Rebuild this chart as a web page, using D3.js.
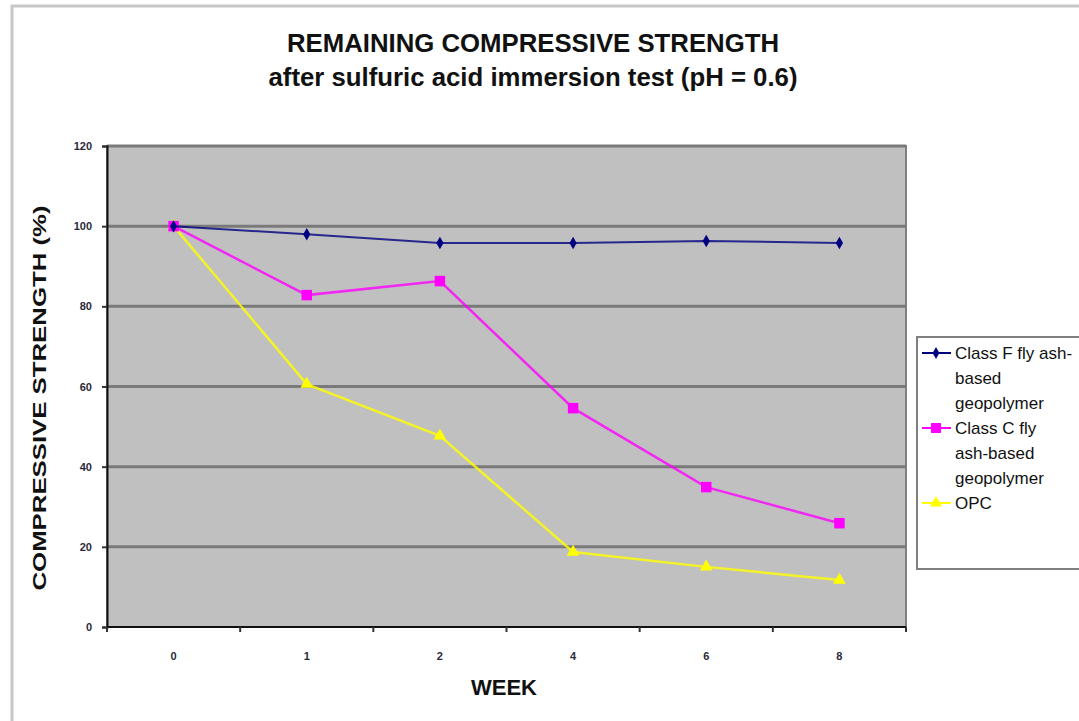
<!DOCTYPE html>
<html>
<head>
<meta charset="utf-8">
<script src="https://cdn.jsdelivr.net/npm/d3@7"></script>
<style>
  html, body { margin: 0; padding: 0; background: #fff; }
  svg { display: block; }
  text { font-family: "Liberation Sans", Arial, sans-serif; }
  .narrow { font-family: "Liberation Sans Narrow", "Liberation Sans", Arial, sans-serif; }
</style>
</head>
<body>
<svg id="chart" width="1079" height="721"></svg>
<script>
// Week labels on the category axis
const weeks = ["0", "1", "2", "4", "6", "8"];
// Remaining compressive strength (%) per series
const classF = [100, 98.0, 95.8, 95.8, 96.3, 95.8];
const classC = [100, 82.8, 86.3, 54.6, 34.9, 25.9];
const opc    = [100, 60.6, 47.7, 18.7, 15.0, 11.7];
const yTicks = [0, 20, 40, 60, 80, 100, 120];

const seriesNames = [
  ["Class F fly ash-", "based", "geopolymer"],
  ["Class C fly", "ash-based", "geopolymer"],
  ["OPC"]
];

const series = [
  { values: classF, color: "#000080", marker: "diamond", lines: seriesNames[0], width: 2 },
  { values: classC, color: "#ff00ff", marker: "square",  lines: seriesNames[1], width: 2.5 },
  { values: opc,    color: "#ffff00", marker: "triangle", lines: seriesNames[2], width: 2.5 }
];

const svg = d3.select("#chart");
const plot = { left: 107, right: 906, top: 146, bottom: 627 };

// outer chart frame
svg.append("rect").attr("x", 12).attr("y", 6).attr("width", 1100).attr("height", 740)
  .attr("fill", "#fff").attr("stroke", "#c8c8c8").attr("stroke-width", 3);

// titles
svg.append("text").attr("class", "narrow").attr("x", 533).attr("y", 52).attr("text-anchor", "middle")
  .attr("font-size", 26).attr("font-weight", "bold").attr("fill", "#111")
  .attr("textLength", 492).attr("lengthAdjust", "spacingAndGlyphs")
  .text("REMAINING COMPRESSIVE STRENGTH");
svg.append("text").attr("class", "narrow").attr("x", 533).attr("y", 86).attr("text-anchor", "middle")
  .attr("font-size", 25).attr("font-weight", "bold").attr("fill", "#111")
  .attr("textLength", 529).attr("lengthAdjust", "spacingAndGlyphs")
  .text("after sulfuric acid immersion test (pH = 0.6)");

const x = d3.scaleBand().domain(weeks).range([plot.left, plot.right]);
const y = d3.scaleLinear().domain([0, 120]).range([plot.bottom, plot.top]);

// plot background
svg.append("rect").attr("x", plot.left).attr("y", plot.top)
  .attr("width", plot.right - plot.left).attr("height", plot.bottom - plot.top)
  .attr("fill", "#c0c0c0").attr("stroke", "#808080").attr("stroke-width", 2);

// horizontal gridlines
svg.append("g").selectAll("line").data(yTicks.filter(t => t > 0)).join("line")
  .attr("x1", plot.left).attr("x2", plot.right)
  .attr("y1", d => y(d)).attr("y2", d => y(d))
  .attr("stroke", "#7a7a7a").attr("stroke-width", 3);

// y axis
const yAxis = svg.append("g").attr("transform", `translate(${plot.left},0)`)
  .call(d3.axisLeft(y).tickValues(yTicks).tickSize(5).tickPadding(10));
yAxis.select(".domain").attr("stroke", "#111").attr("stroke-width", 2);
yAxis.selectAll(".tick line").attr("stroke", "#333").attr("stroke-width", 2);
yAxis.selectAll(".tick text").attr("font-size", 11).attr("font-weight", "bold")
  .attr("fill", "#2a2a3a").attr("font-family", "Liberation Sans Narrow, Liberation Sans, Arial, sans-serif");

// x axis: ticks between categories, labels centered in bands
const xAxis = svg.append("g").attr("transform", `translate(0,${plot.bottom})`);
xAxis.append("line").attr("x1", plot.left).attr("x2", plot.right)
  .attr("y1", 0).attr("y2", 0).attr("stroke", "#111").attr("stroke-width", 2);
const bounds = weeks.map(w => x(w)).concat([plot.right]);
xAxis.selectAll("line.tk").data(bounds).join("line").attr("class", "tk")
  .attr("x1", d => d).attr("x2", d => d).attr("y1", 0).attr("y2", 5)
  .attr("stroke", "#333").attr("stroke-width", 2);
xAxis.selectAll("text").data(weeks).join("text").attr("class", "narrow")
  .attr("x", d => x(d) + x.bandwidth() / 2).attr("y", 33)
  .attr("text-anchor", "middle").attr("font-size", 11).attr("font-weight", "bold")
  .attr("fill", "#2a2a3a").text(d => d);

// axis titles
svg.append("text").attr("class", "narrow").attr("x", 504).attr("y", 695).attr("text-anchor", "middle")
  .attr("font-size", 22).attr("font-weight", "bold").attr("fill", "#111")
  .attr("textLength", 66).attr("lengthAdjust", "spacingAndGlyphs").text("WEEK");
svg.append("text").attr("transform", "translate(46,398) rotate(-90)")
  .attr("text-anchor", "middle").attr("font-size", 18).attr("font-weight", "bold")
  .attr("fill", "#111").attr("textLength", 385).attr("lengthAdjust", "spacingAndGlyphs")
  .text("COMPRESSIVE STRENGTH (%)");

const cx = i => x(weeks[i]) + x.bandwidth() / 2;
const line = d3.line().x((d, i) => cx(i)).y(d => y(d));

function markerPath(type, size) {
  if (type === "diamond") return d3.symbol(d3.symbolDiamond, size)();
  if (type === "square") return d3.symbol(d3.symbolSquare, size)();
  return d3.symbol(d3.symbolTriangle, size)();
}
const markerSize = { diamond: 45, square: 110, triangle: 70 };

// series lines and markers (drawn in reverse so Class F sits on top)
series.slice().reverse().forEach(s => {
  svg.append("path").datum(s.values).attr("d", line)
    .attr("fill", "none").attr("stroke", s.color).attr("stroke-width", s.width)
    .attr("stroke-opacity", 0.8);
  svg.append("g").selectAll("path").data(s.values).join("path")
    .attr("transform", (d, i) => `translate(${cx(i)},${y(d)})`)
    .attr("d", markerPath(s.marker, markerSize[s.marker]))
    .attr("fill", s.color);
});

// legend
const lg = svg.append("g");
lg.append("rect").attr("x", 917).attr("y", 337).attr("width", 200).attr("height", 232)
  .attr("fill", "#fff").attr("stroke", "#808080").attr("stroke-width", 2);
let rowY = 353;
series.forEach(s => {
  lg.append("line").attr("x1", 922).attr("x2", 951).attr("y1", rowY).attr("y2", rowY)
    .attr("stroke", s.color).attr("stroke-width", 2);
  lg.append("path").attr("transform", `translate(936,${rowY})`)
    .attr("d", markerPath(s.marker, markerSize[s.marker] * 0.9)).attr("fill", s.color);
  s.lines.forEach((t, k) => {
    lg.append("text").attr("x", 955).attr("y", rowY + 6 + k * 25)
      .attr("font-size", 17).attr("fill", "#111").text(t);
  });
  rowY += s.lines.length * 25;
});
</script>
</body>
</html>
